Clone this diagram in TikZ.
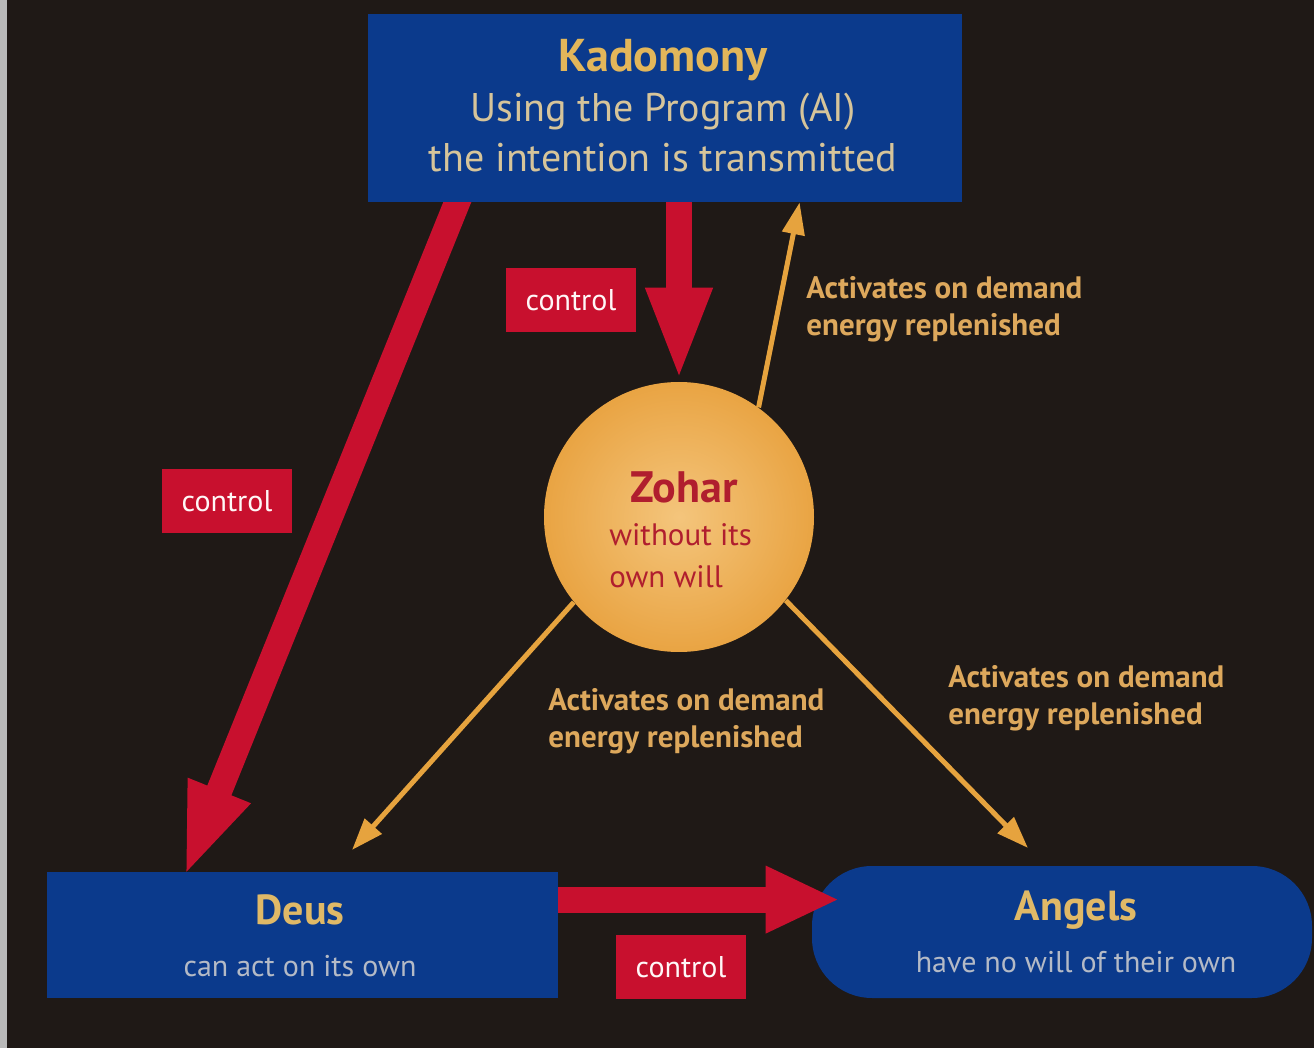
\documentclass[tikz,border=0pt]{standalone}
\usepackage{fontspec}
\setmainfont{PT Sans}
\usetikzlibrary{arrows.meta,calc}
\pgfdeclarelayer{bg}
\pgfsetlayers{bg,main}

\definecolor{bgdark}{HTML}{1F1916}
\definecolor{boxblue}{HTML}{0B3A8C}
\definecolor{ctlred}{HTML}{C8102E}
\definecolor{gold}{HTML}{E6A33E}
\definecolor{actgold}{HTML}{DDA85C}
\definecolor{titlegold}{HTML}{E2B65A}
\definecolor{subbeige}{HTML}{D6C49A}
\definecolor{subgrey}{HTML}{B4BAC6}
\definecolor{zohred}{HTML}{B01E2E}
\definecolor{zohfill}{HTML}{E9A443}
\definecolor{zohlight}{HTML}{F4C57C}

\begin{document}
\begin{tikzpicture}[x=0.5pt, y=-0.5pt,
    blockbox/.style={fill=boxblue, inner sep=0pt},
    blocktext/.style={align=center, inner sep=0pt, font=\fontsize{15}{26}\selectfont},
    ctlbox/.style={fill=ctlred, text=white!88!pink, minimum width=65pt, minimum height=32pt, inner sep=0pt, font=\fontsize{15}{18}\selectfont},
    fatarrow/.style={ctlred, line width=13pt, -{Triangle[width=30pt,length=47pt]}},
    thinarrow/.style={gold, line width=2.5pt, -{Triangle[width=11pt,length=16pt]}},
    actlabel/.style={text=actgold, align=left, anchor=north west, inner sep=0pt, font=\bfseries\fontsize{15.5}{18.5}\selectfont}]

    \useasboundingbox (0,0) rectangle (1314,1048);
    \begin{pgfonlayer}{bg}
        \fill[bgdark] (0,0) rectangle (1314,1048);
        \fill[gray!55] (0,0) rectangle (7,1048);
    \end{pgfonlayer}

    \node[blockbox, minimum width=297pt, minimum height=94pt] (kad) at (665,108) {};
    \node[blocktext, font=\fontsize{20}{25}\selectfont] (kadtext) at (663,106)
        {\textcolor{titlegold}{\bfseries\fontsize{23}{25}\selectfont Kadomony}\\
         \textcolor{subbeige}{Using the Program (AI)}\\
         \textcolor{subbeige}{the intention is transmitted}};

    \node[blockbox, minimum width=255.5pt, minimum height=63pt] (deus) at (302,935) {};
    \node[blocktext] (deustext) at (300,936)
        {\textcolor{titlegold!80!subbeige}{\bfseries\fontsize{21}{25}\selectfont Deus}\\
         \textcolor{subgrey}{can act on its own}};

    \node[blockbox, rounded corners=30pt, minimum width=250pt, minimum height=66pt] (ang) at (1062,932) {};
    \node[blocktext] (angtext) at (1076,932)
        {\textcolor{titlegold!80!subbeige}{\bfseries\fontsize{21}{25}\selectfont Angels}\\
         \textcolor{subgrey}{have no will of their own}};

    \node[circle, minimum size=135pt, inner color=zohlight, outer color=zohfill] (zoh) at (679,517) {};
    \node[text=zohred, font=\bfseries\fontsize{22}{25}\selectfont] (zohtitle) at (684,487) {Zohar};
    \node[text=zohred, align=left, anchor=west, inner sep=0pt, font=\fontsize{15.5}{21}\selectfont] (zohsub) at (609,556) {without its\\own will};

    \coordinate (kz) at (kad.south -| zoh.north);
    \coordinate (kd) at ($(kad.south west)+(92,-6)$);
    \coordinate (dtip) at ($(deus.north west)+(138,6)$);
    \coordinate (da) at ($(deus.north east)+(0,28)$);
    \coordinate (atip) at ($(da -| ang.west)+(28,0)$);
    \coordinate (ktip) at ($(kad.south west)+(432,0)$);
    \coordinate (dgold) at (352,850);
    \coordinate (agold) at (1028,848);

    \begin{pgfonlayer}{bg}
        \draw[fatarrow] ($(kz)+(0,-6)$) -- (zoh.north);
        \draw[fatarrow] (kd) -- (dtip);
    \end{pgfonlayer}
    \draw[fatarrow, -{Triangle[width=31pt,length=37pt]}] (da) -- (atip);

    \draw[thinarrow] (zoh.54) -- (ktip);
    \draw[thinarrow] (zoh.219) -- (dgold);
    \draw[thinarrow] (zoh.322) -- (agold);

    \node[ctlbox] (ctla) at (571,300) {control};
    \node[ctlbox] (ctlb) at (227,501) {control};
    \node[ctlbox] (ctlc) at (681,967) {control};

    \node[actlabel] (acta) at (806,276) {Activates on demand\\energy replenished};
    \node[actlabel] (actb) at (548,688) {Activates on demand\\energy replenished};
    \node[actlabel] (actc) at (948,665) {Activates on demand\\energy replenished};
\end{tikzpicture}
\end{document}
